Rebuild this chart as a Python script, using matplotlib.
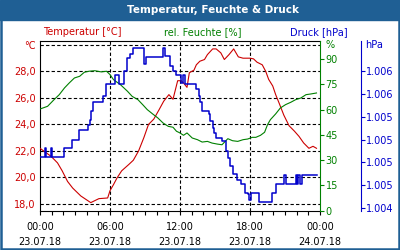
import matplotlib.pyplot as plt
from matplotlib.patches import Rectangle

RED = '#cc0000'
GREEN = '#008000'
BLUE = '#0000cc'
BAR = '#1f5f94'

# temperature [°C]
t_h = [0, 0.94, 1.5, 1.9, 2.36, 2.8, 3.5, 4.35, 5.05, 5.8, 6.0, 6.3, 6.6, 7.0, 7.6, 8.0, 8.45, 8.9, 9.3,
       9.75, 10.2, 10.6, 11.05, 11.4, 11.8, 12.1, 12.3, 12.6, 12.8, 13.2, 13.4, 13.7, 14.1, 14.35, 14.8,
       15.1, 15.5, 15.8, 16.2, 16.6, 17.0, 17.4, 18.0, 18.3, 18.6, 19.05, 19.35, 19.6, 19.95, 20.2, 20.5,
       20.9, 21.35, 21.8, 22.2, 22.6, 23.05, 23.4, 23.7]
temp = [22.2, 21.6, 21.1, 20.5, 19.7, 19.2, 18.6, 18.1, 18.4, 18.45, 19.0, 19.46, 19.96, 20.5, 20.97, 21.3,
        22.0, 23.0, 24.0, 24.4, 25.1, 25.75, 26.25, 25.9, 27.3, 27.3, 27.13, 26.8, 27.9, 28.1, 28.5, 28.77,
        28.9, 29.27, 29.7, 29.7, 29.4, 28.9, 29.27, 29.7, 29.1, 29.0, 29.0, 28.95, 28.7, 28.5, 28.0, 27.4,
        26.9, 26.25, 25.6, 24.7, 23.9, 23.5, 23.1, 22.6, 22.2, 22.35, 22.2]

# relative humidity [%]
f_h = [0, 0.65, 1.2, 1.65, 2.1, 2.5, 2.95, 3.4, 3.8, 4.2, 4.7, 5.25, 5.7, 6.0, 6.3, 6.9, 7.5, 7.9, 8.4,
       8.8, 9.2, 9.65, 10.1, 10.55, 11.0, 11.4, 11.7, 12.0, 12.3, 12.6, 13.05, 13.5, 13.9, 14.35, 14.75,
       15.2, 15.6, 16.1, 16.5, 16.95, 17.4, 17.8, 18.2, 18.5, 18.9, 19.25, 19.5, 19.75, 20.2, 20.6, 21.05,
       21.5, 21.9, 22.35, 22.8, 23.2, 23.7]
hum = [60.3, 61.9, 65.8, 68.8, 72.8, 75.7, 78.7, 79.7, 82.1, 82.7, 83.0, 82.3, 82.7, 80.7, 77.7, 74.7,
       70.8, 67.8, 65.8, 62.9, 59.9, 57.4, 55.0, 52.0, 50.0, 49.5, 47.1, 46.1, 44.7, 46.1, 43.1, 42.1,
       40.7, 41.1, 40.1, 39.5, 39.1, 42.7, 41.5, 41.1, 42.1, 42.5, 43.5, 43.5, 44.7, 46.5, 51.0, 54.0,
       57.4, 60.9, 62.9, 64.3, 65.8, 66.8, 68.8, 69.2, 69.8]

# pressure [hPa]
p_h = [0, 0.45, 0.55, 0.95, 1.05, 2.05, 2.7, 3.3, 4.1, 4.25, 4.4, 4.55, 5.4, 5.65, 6.4, 6.75, 7.2, 7.45,
       7.7, 8.0, 8.9, 9.1, 10.5, 10.75, 11.1, 11.4, 11.7, 12.05, 12.25, 12.45, 13.35, 13.6, 13.75, 13.85,
       14.45, 14.6, 14.8, 14.95, 15.1, 15.6, 15.9, 16.1, 16.25, 16.5, 16.9, 17.2, 17.55, 17.8, 17.95,
       18.1, 18.75, 19.9, 20.25, 20.95, 21.1, 21.95, 22.05, 22.15, 22.3, 22.45, 23.7]
pres = [1004.87, 1004.99, 1004.87, 1004.99, 1004.87, 1004.99, 1005.10, 1005.23, 1005.29, 1005.36,
        1005.48, 1005.60, 1005.67, 1005.83, 1005.95, 1005.83, 1006.00, 1006.17, 1006.23, 1006.31,
        1006.09, 1006.18, 1006.31, 1006.20, 1006.07, 1006.00, 1005.95, 1005.85, 1005.95, 1005.83,
        1005.76, 1005.67, 1005.60, 1005.48, 1005.44, 1005.34, 1005.25, 1005.19, 1005.12, 1005.08,
        1004.95, 1004.86, 1004.75, 1004.65, 1004.57, 1004.52, 1004.40, 1004.38, 1004.31, 1004.40,
        1004.28, 1004.40, 1004.52, 1004.63, 1004.52, 1004.63, 1004.52, 1004.63, 1004.52, 1004.64, 1004.64]

t_ticks = [18, 20, 22, 24, 26, 28, 30]
t_labels = ['18,0', '20,0', '22,0', '24,0', '26,0', '28,0', '°C']
f_ticks = [0, 15, 30, 45, 60, 75, 90]
p_ticks = [1004.2, 1004.5, 1004.8, 1005.1, 1005.4, 1005.7, 1006.0]
p_labels = ['1.004', '1.005', '1.005', '1.005', '1.005', '1.006', '1.006']
x_ticks = [0, 6, 12, 18, 24]
x_labels = ['00:00\n23.07.18', '06:00\n23.07.18', '12:00\n23.07.18', '18:00\n23.07.18', '00:00\n24.07.18']

plt.rcParams['font.size'] = 7
fig = plt.figure(figsize=(4, 2.5), dpi=100)
fig.patch.set_facecolor('white')

# title bar and frame
fig.patches.append(Rectangle((0, 230 / 250), 1, 20 / 250, transform=fig.transFigure, color=BAR, zorder=0))
fig.patches.append(Rectangle((0.003, 0.005), 0.994, 0.99, transform=fig.transFigure, fill=False,
                             edgecolor=BAR, linewidth=1.8, zorder=0))
fig.text(213 / 400, 1 - 10 / 250, 'Temperatur, Feuchte & Druck', color='white', fontweight='bold',
         fontsize=7.5, ha='center', va='center')

ax = fig.add_axes([40 / 400, 1 - 210.7 / 250, 280 / 400, 170 / 250])
ax.set_xlim(0, 24)
ax.set_ylim(17.49, 30.32)
ax.set_yticks(t_ticks)
ax.set_yticklabels(t_labels)
ax.tick_params(axis='y', length=0, pad=3, colors=RED)
ax.set_xticks(x_ticks)
ax.set_xticklabels(x_labels, linespacing=1.6)
ax.set_xticks(range(25), minor=True)
ax.tick_params(axis='x', which='both', direction='out', length=3, width=0.8, pad=5, colors='black')
for v in t_ticks:
    ax.axhline(v, color='black', linestyle=(0, (3, 2)), linewidth=0.8, zorder=1)
for v in x_ticks[1:-1]:
    ax.axvline(v, color='black', linestyle=(0, (3, 2)), linewidth=0.8, zorder=1)
ax.spines['right'].set_visible(False)
for s in ['left', 'top', 'bottom']:
    ax.spines[s].set_linewidth(0.8)

ax2 = ax.twinx()
ax2.set_ylim(0, 100.8)
ax2.set_yticks(f_ticks)
ax2.tick_params(axis='y', length=3, width=0.8, pad=1, colors=GREEN)
ax2.spines['right'].set_color(GREEN)
ax2.spines['right'].set_linewidth(0.8)
for s in ['left', 'top', 'bottom']:
    ax2.spines[s].set_visible(False)

ax3 = ax.twinx()
ax3.spines['right'].set_position(('axes', 1.146))
ax3.set_ylim(1004.164, 1006.40)
ax3.set_yticks(p_ticks)
ax3.set_yticklabels(p_labels)
ax3.tick_params(axis='y', length=3, width=0.8, pad=1, colors=BLUE)
ax3.spines['right'].set_color(BLUE)
ax3.spines['right'].set_linewidth(0.8)
for s in ['left', 'top', 'bottom']:
    ax3.spines[s].set_visible(False)

ax.plot(t_h, temp, color=RED, linewidth=0.8, zorder=3)
ax2.plot(f_h, hum, color=GREEN, linewidth=0.8)
ax3.plot(p_h, pres, color=BLUE, linewidth=1.1, drawstyle='steps-post')

fig.text(43 / 400, 1 - 32 / 250, 'Temperatur [°C]', color=RED, ha='left', va='center')
fig.text(203 / 400, 1 - 32 / 250, 'rel. Feuchte [%]', color=GREEN, ha='center', va='center')
fig.text(348 / 400, 1 - 32 / 250, 'Druck [hPa]', color=BLUE, ha='right', va='center')
fig.text(325 / 400, 1 - 45 / 250, '%', color=GREEN, ha='left', va='center')
fig.text(365 / 400, 1 - 45 / 250, 'hPa', color=BLUE, ha='left', va='center')

fig.savefig('out.png', dpi=100)
